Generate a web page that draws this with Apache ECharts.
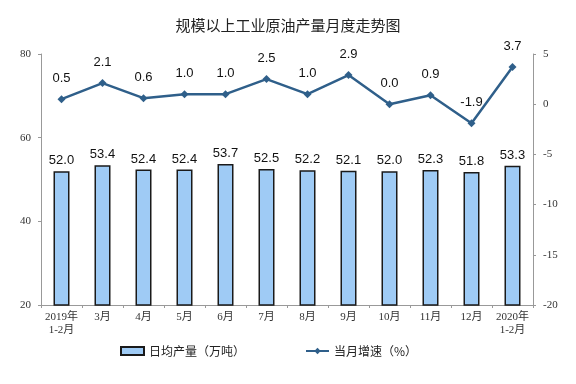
<!DOCTYPE html>
<html><head><meta charset="utf-8">
<script src="https://cdn.jsdelivr.net/npm/echarts@6/dist/echarts.min.js"></script>
<style>html,body{margin:0;padding:0;background:#fff}#c{width:576px;height:384px}</style>
</head><body><div id="c"></div>
<script>
var categories = ['2019年\n1-2月','3月','4月','5月','6月','7月','8月','9月','10月','11月','12月','2020年\n1-2月'];
var dailyOutput = [52.0,53.4,52.4,52.4,53.7,52.5,52.2,52.1,52.0,52.3,51.8,53.3];
var growthRate = [0.5,2.1,0.6,1.0,1.0,2.5,1.0,2.9,0.0,0.9,-1.9,3.7];
var leftTicks = [20,40,60,80];
var rightTicks = [-20,-15,-10,-5,0,5];

var chart = echarts.init(document.getElementById('c'));
var serif = '"Liberation Serif","Noto Sans CJK SC",serif';
var sans = '"Liberation Sans","Noto Sans CJK SC",sans-serif';
chart.setOption({
  animation:false,
  title:{text:'规模以上工业原油产量月度走势图',left:283,textAlign:'center',top:13,
    textStyle:{fontSize:15,fontWeight:'normal',color:'#222',fontFamily:'"Noto Sans CJK SC",sans-serif'}},
  grid:{left:41,right:43,top:54,bottom:79},
  legend:{bottom:22,left:115,itemGap:60,itemWidth:23,itemHeight:8,
    textStyle:{fontSize:12,color:'#222',fontFamily:'"Noto Sans CJK SC",sans-serif'},
    data:[{name:'日均产量（万吨）',icon:'rect'},{name:'当月增速（%）'}]},
  xAxis:{type:'category',data:categories,
    axisLine:{onZero:false,lineStyle:{color:'#999'}},
    axisTick:{show:true,alignWithLabel:false,length:3,lineStyle:{color:'#999'}},
    axisLabel:{interval:0,color:'#333',fontSize:11,fontFamily:serif,lineHeight:13,margin:6}},
  yAxis:[
    {type:'value',min:20,max:80,interval:20,
      axisLine:{show:true,lineStyle:{color:'#999'}},
      axisTick:{show:true,length:3,lineStyle:{color:'#999'}},
      splitLine:{show:false},
      axisLabel:{color:'#333',fontSize:11,fontFamily:serif,margin:10,
        formatter:function(v){return leftTicks.indexOf(v)>=0?String(v):'';}}},
    {type:'value',min:-20,max:5,interval:5,
      axisLine:{show:true,lineStyle:{color:'#999'}},
      axisTick:{show:true,length:3,lineStyle:{color:'#999'}},
      splitLine:{show:false},
      axisLabel:{color:'#333',fontSize:11,fontFamily:serif,margin:10,
        formatter:function(v){return rightTicks.indexOf(v)>=0?String(v):'';}}}
  ],
  series:[
    {name:'日均产量（万吨）',type:'bar',data:dailyOutput,barWidth:16,yAxisIndex:0,
      itemStyle:{color:'#9FCBF5',borderColor:'#1a1a1a',borderWidth:1.5},
      label:{show:true,position:'top',distance:4,fontSize:13,color:'#111',fontFamily:sans,
        formatter:function(p){return p.value.toFixed(1);}}},
    {name:'当月增速（%）',type:'line',data:growthRate,yAxisIndex:1,
      symbol:'diamond',symbolSize:8,
      lineStyle:{color:'#2F5F8A',width:2.5},itemStyle:{color:'#2F5F8A'},
      label:{show:true,position:'top',distance:10,fontSize:13,color:'#111',fontFamily:sans,
        formatter:function(p){return p.value.toFixed(1);}}}
  ]
});
</script></body></html>
